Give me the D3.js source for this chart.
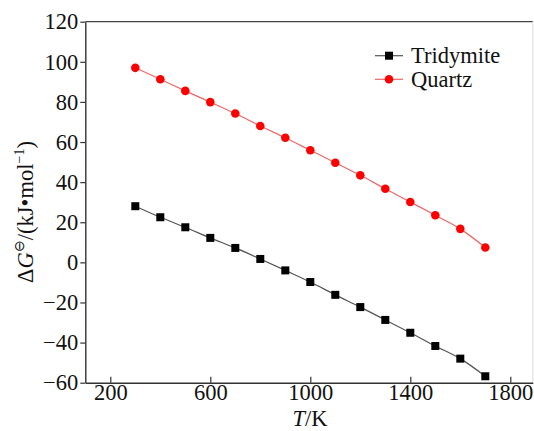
<!DOCTYPE html>
<html>
<head>
<meta charset="utf-8">
<script src="https://cdn.jsdelivr.net/npm/d3@7"></script>
<style>
  html, body { margin: 0; padding: 0; background: #fff; }
  svg { display: block; }
</style>
</head>
<body>
<svg id="chart" width="534" height="431"></svg>
<script>
// Temperatures (K) and standard Gibbs energy change (kJ/mol)
const temperatures = [300, 400, 500, 600, 700, 800, 900, 1000, 1100, 1200, 1300, 1400, 1500, 1600, 1700];
const tridymite = [28, 22.5, 17.5, 12.2, 7.2, 1.7, -4, -9.8, -16.2, -22.3, -28.7, -35.1, -41.7, -48, -56.8];
const quartz = [97, 91.3, 85.5, 79.9, 74.2, 68, 62.1, 55.9, 49.7, 43.4, 36.7, 30.1, 23.5, 16.7, 7.4];
const xTicks = [200, 600, 1000, 1400, 1800];
const yTicks = [-60, -40, -20, 0, 20, 40, 60, 80, 100, 120];
const seriesNames = ["Tridymite", "Quartz"];

const FONT = 22.5;
const SERIF = '"Liberation Serif", "Times New Roman", serif';
const svg = d3.select("#chart");
const plotLeft = 85.3, plotRight = 532.8, plotTop = 21.7, plotBottom = 382.7;

const x = d3.scaleLinear().domain([100, 1890]).range([plotLeft, plotRight]);
const y = d3.scaleLinear().domain([-60, 120]).range([plotBottom, plotTop]);

function styleText(sel, size) {
  return sel.style("font-family", SERIF).style("font-size", size + "px").style("fill", "#111");
}

// frame
svg.append("line").attr("x1", plotLeft).attr("x2", plotRight).attr("y1", plotTop).attr("y2", plotTop)
  .attr("stroke", "#444").attr("stroke-width", 1.3);
svg.append("line").attr("x1", plotRight).attr("x2", plotRight).attr("y1", plotTop).attr("y2", plotBottom)
  .attr("stroke", "#ddd").attr("stroke-width", 1);

// x axis: ticks pointing inward
const xAxis = svg.append("g").attr("transform", `translate(0,${plotBottom})`)
  .call(d3.axisBottom(x).tickValues(xTicks).tickSizeInner(-6).tickSizeOuter(0).tickPadding(1)
    .tickFormat(d3.format("d")));
xAxis.select(".domain").attr("stroke", "#333").attr("stroke-width", 1.4);
xAxis.selectAll(".tick line").attr("stroke", "#333").attr("stroke-width", 1.2);
styleText(xAxis.selectAll("text"), FONT);

// y axis: ticks pointing outward
const yAxis = svg.append("g").attr("transform", `translate(${plotLeft},0)`)
  .call(d3.axisLeft(y).tickValues(yTicks).tickSizeInner(5).tickSizeOuter(0).tickPadding(2)
    .tickFormat(d => d < 0 ? "\u2212" + Math.abs(d) : String(d)));
yAxis.select(".domain").attr("stroke", "#333").attr("stroke-width", 1.4);
yAxis.selectAll(".tick line").attr("stroke", "#333").attr("stroke-width", 1.2);
styleText(yAxis.selectAll("text"), FONT);

// axis titles
const xTitle = styleText(svg.append("text").attr("x", 310).attr("y", 426).attr("text-anchor", "middle"), FONT);
xTitle.append("tspan").attr("font-style", "italic").text("T");
xTitle.append("tspan").text("/K");

const yTitle = styleText(svg.append("text")
  .attr("transform", "translate(33,212) rotate(-90)")
  .attr("text-anchor", "middle"), FONT);
yTitle.append("tspan").text("\u0394");
yTitle.append("tspan").attr("font-style", "italic").text("G");
yTitle.append("tspan").style("font-size", "14px").attr("dy", -9).text("\u2296");
yTitle.append("tspan").attr("dy", 9).text("/(kJ\u2022mol");
yTitle.append("tspan").style("font-size", "14px").attr("dy", -9).text("\u22121");
yTitle.append("tspan").attr("dy", 9).text(")");

const line = d3.line().x((d, i) => x(temperatures[i])).y(d => y(d)).curve(d3.curveMonotoneX);

// Tridymite series
svg.append("path").datum(tridymite).attr("d", line)
  .attr("fill", "none").attr("stroke", "#555").attr("stroke-width", 1.2);
svg.selectAll(".sq").data(tridymite).enter().append("rect")
  .attr("x", (d, i) => x(temperatures[i]) - 4).attr("y", d => y(d) - 4)
  .attr("width", 8).attr("height", 8).attr("fill", "#000");

// Quartz series
svg.append("path").datum(quartz).attr("d", line)
  .attr("fill", "none").attr("stroke", "#ee6666").attr("stroke-width", 1.2);
svg.selectAll(".ci").data(quartz).enter().append("circle")
  .attr("cx", (d, i) => x(temperatures[i])).attr("cy", d => y(d))
  .attr("r", 4.3).attr("fill", "#f00");

// legend
const legendRows = [
  { name: seriesNames[0], color: "#555", mark: "square", y: 55.7 },
  { name: seriesNames[1], color: "#ee6666", mark: "circle", y: 79.3 }
];
legendRows.forEach(r => {
  svg.append("line").attr("x1", 375).attr("x2", 403).attr("y1", r.y).attr("y2", r.y)
    .attr("stroke", r.color).attr("stroke-width", 1.2);
  if (r.mark === "square") {
    svg.append("rect").attr("x", 385).attr("y", r.y - 4).attr("width", 8).attr("height", 8).attr("fill", "#000");
  } else {
    svg.append("circle").attr("cx", 389).attr("cy", r.y).attr("r", 4.3).attr("fill", "#f00");
  }
  styleText(svg.append("text").attr("x", 411).attr("y", r.y + 7.5), 22.5).text(r.name);
});
</script>
</body>
</html>
